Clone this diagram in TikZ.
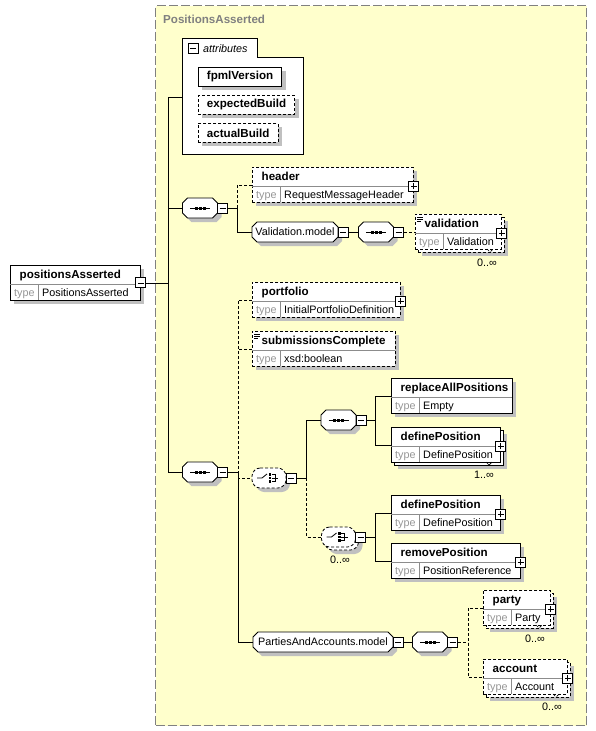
\documentclass[tikz,border=0pt]{standalone}
\usepackage{fontspec}
\setmainfont{Liberation Sans}
\usepackage{tikz}
\usetikzlibrary{shadows}

\definecolor{ctyellow}{RGB}{255,255,204}
\definecolor{ctborder}{RGB}{128,128,128}
\definecolor{shadowgray}{RGB}{192,192,192}
\definecolor{typegray}{RGB}{150,150,150}
\definecolor{divgray}{RGB}{140,140,140}

\newcommand{\namefont}{\fontsize{11.6}{13}\selectfont\bfseries}
\newcommand{\typefont}{\fontsize{10.8}{12}\selectfont}

\tikzstyle{conn} = [line width=0.8pt]
\tikzstyle{optline} = [dash pattern=on 3pt off 2pt]
\tikzstyle{optconn} = [conn, optline]
\tikzstyle{shadowfill} = [fill=shadowgray, draw=none]
\tikzstyle{boxshadow} = [general shadow={fill=shadowgray, shadow xshift=4pt, shadow yshift=-4pt}]
\tikzstyle{ctbox} = [rectangle, anchor=north west, fill=ctyellow, draw=ctborder, line width=1pt, dash pattern=on 9pt off 3pt, inner sep=0pt]
\tikzstyle{elembox} = [rectangle, draw=black, line width=0.8pt, fill=white, inner sep=0pt, minimum height=35pt, anchor=north west]
\tikzstyle{attrbox} = [rectangle, draw=black, line width=0.8pt, fill=white, boxshadow, anchor=north west, inner xsep=8.5pt, inner ysep=0pt, minimum height=19pt, font=\namefont]
\tikzstyle{divline} = [draw=divgray, line width=0.6pt]
\tikzstyle{nametext} = [anchor=base west, inner sep=0pt, font=\namefont]
\tikzstyle{typelabel} = [anchor=base west, inner sep=0pt, font=\typefont, text=typegray]
\tikzstyle{typevalue} = [anchor=base west, inner sep=0pt, font=\typefont]
\tikzstyle{multtext} = [anchor=east, inner sep=0pt, font=\typefont]
\tikzstyle{btn} = [rectangle, solid, draw=black, fill=white, line width=0.9pt, minimum size=10pt, inner sep=0pt]
\tikzstyle{minusbtn} = [btn, path picture={\draw[line width=0.8pt] ([xshift=2pt]path picture bounding box.west) -- ([xshift=-2pt]path picture bounding box.east);}]
\tikzstyle{plusbtn} = [btn, path picture={\draw[line width=0.8pt] ([xshift=2pt]path picture bounding box.west) -- ([xshift=-2pt]path picture bounding box.east) ([yshift=2pt]path picture bounding box.south) -- ([yshift=-2pt]path picture bounding box.north);}]
\tikzstyle{octline} = [draw=black, fill=white, line width=0.8pt]
\tikzstyle{compnode} = [rectangle, inner sep=0pt, minimum height=20pt]

% element box: style, name, x, y, width, label, type
\newcommand{\elembody}[7]{%
  \node[elembox, #1, minimum width=#5pt] (#2) at (#3,#4) {};
  \draw[divline] (#3,#4+19.5) -- ++(#5,0);
  \draw[divline] (#3+28,#4+19.5) -- ++(0,15.5);
  \node[nametext] (#2-name) at (#3+9.5,#4+13.5) {#6};
  \node[typelabel] (#2-tl) at (#3+4,#4+31) {type};
  \node[typevalue] (#2-type) at (#3+32,#4+31) {#7};
}
\newcommand{\elem}[7][solid]{\elembody{boxshadow,#1}{#2}{#3}{#4}{#5}{#6}{#7}}
\newcommand{\elemmulti}[7][solid]{%
  \node[elembox, boxshadow, #1, minimum width=#5pt] (#2-back) at (#3+3,#4+3) {};
  \elembody{#1}{#2}{#3}{#4}{#5}{#6}{#7}
  \draw[#1, line width=0.7pt] (#3+#5-14,#4+35) -- ++(3,3) -- ++(3,-3);
}
\newcommand{\docmark}[2]{\draw[line width=0.6pt] (#1+2,#2+3) -- ++(6,0) (#1+2,#2+5) -- ++(6,0) (#1+2,#2+7) -- ++(4,0);}

% octagon: style, cx, cy, width, height
\newcommand{\octshape}[5]{\draw[#1] (#2-#4/2+5,#3-#5/2) -- (#2+#4/2-5,#3-#5/2) -- (#2+#4/2,#3-#5/2+5) -- (#2+#4/2,#3+#5/2-5) -- (#2+#4/2-5,#3+#5/2) -- (#2-#4/2+5,#3+#5/2) -- (#2-#4/2,#3+#5/2-5) -- (#2-#4/2,#3-#5/2+5) -- cycle;}
% sequence: name, cx, cy
\newcommand{\seqnode}[3]{%
  \octshape{shadowfill}{#2+4}{#3+4}{35}{20}
  \octshape{octline}{#2}{#3}{35}{20}
  \node[compnode, minimum width=35pt] (#1) at (#2,#3) {};
  \draw[conn] ([xshift=-10pt]#1.center) -- ([xshift=10pt]#1.center);
  \foreach \dx in {-4,0,4} \fill ([xshift=\dx pt]#1.center) +(-1.5pt,-1.5pt) rectangle +(1.5pt,1.5pt);
}
% model group: name, cx, cy, width, text
\newcommand{\modelnode}[5]{%
  \octshape{shadowfill}{#2+4}{#3+4}{#4}{20}
  \octshape{octline}{#2}{#3}{#4}{20}
  \node[compnode, minimum width=#4pt, font=\typefont] (#1) at (#2,#3) {#5};
}
% choice: name, cx, cy
\newcommand{\choicebody}[3]{%
  \octshape{octline, optline, rounded corners=3pt}{#2}{#3}{34}{20}
  \node[compnode, minimum width=34pt] (#1) at (#2,#3) {};
  \draw[conn] ([xshift=-12pt]#1.center) -- ([xshift=-7pt]#1.center) -- ([shift={(-2pt,4pt)}]#1.center);
  \foreach \dy in {-3.5,0,3.5} \fill ([shift={(1pt,\dy pt)}]#1.center) +(-1.3pt,-1.3pt) rectangle +(1.3pt,1.3pt);
  \draw[line width=0.7pt] ([shift={(2.5pt,3.5pt)}]#1.center) -- ([shift={(6pt,3.5pt)}]#1.center) -- ([shift={(6pt,-3.5pt)}]#1.center) -- ([shift={(2.5pt,-3.5pt)}]#1.center) ([shift={(2.5pt,0pt)}]#1.center) -- ([shift={(9pt,0pt)}]#1.center);
}
\newcommand{\choicenode}[3]{%
  \octshape{shadowfill, rounded corners=3pt}{#2+4}{#3+4}{34}{20}
  \choicebody{#1}{#2}{#3}
}
\newcommand{\choicemulti}[3]{%
  \octshape{shadowfill, rounded corners=3pt}{#2+7}{#3+7}{34}{20}
  \octshape{octline, optline, rounded corners=3pt}{#2+3}{#3+3}{34}{20}
  \choicebody{#1}{#2}{#3}
}

\begin{document}
\begin{tikzpicture}[x=1pt, y=-1pt]
\useasboundingbox (0,0) rectangle (596,731);

% complex type area
\node[ctbox, minimum width=431pt, minimum height=720pt] (ctype) at (155,5) {};
\node[anchor=base west, inner sep=0pt, font=\namefont, text=ctborder] (ctTitle) at (163,23) {PositionsAsserted};

% root element
\elem{pa}{10}{265}{130}{positionsAsserted}{PositionsAsserted}
\node[minusbtn] (paMinus) at (pa.east) {};

% attributes
\node[anchor=north west, inner sep=0pt, minimum width=121pt, minimum height=97pt] (attrs) at (182,57) {};
\draw[line width=0.8pt, fill=white] (attrs.south west) -- (182,38) -- (257,38) -- (257,57) -- (attrs.north east) -- (attrs.south east) -- cycle;
\node[minusbtn] (attrMinus) at (193,48.5) {};
\node[anchor=base west, inner sep=0pt, font=\typefont\itshape] (attrLabel) at (203,52) {attributes};
\node[attrbox] (fpml) at (198,67) {fpmlVersion};
\node[attrbox, optline] (expected) at (198,95) {expectedBuild};
\node[attrbox, optline] (actual) at (198,123) {actualBuild};

% first sequence
\seqnode{seqTop}{200}{208}
\node[minusbtn] (seqTopMinus) at ([xshift=5pt]seqTop.east) {};
\elem[optline]{header}{252}{167}{161}{header}{RequestMessageHeader}
\node[plusbtn] (headerPlus) at ([yshift=-1.5pt]header.east) {};
\modelnode{valModel}{295}{232}{86}{Validation.model}
\node[minusbtn] (valModelMinus) at ([xshift=5pt]valModel.east) {};
\seqnode{seqVal}{376}{232}
\node[minusbtn] (seqValMinus) at ([xshift=5pt]seqVal.east) {};
\elemmulti[optline]{validation}{415}{214}{86}{validation}{Validation}
\docmark{415}{214}
\node[plusbtn] (validationPlus) at ([yshift=-1.5pt]validation.east) {};
\node[multtext] (validationMult) at (497,263) {0..∞};

% second sequence
\seqnode{seqMain}{200}{472}
\node[minusbtn] (seqMainMinus) at ([xshift=5pt]seqMain.east) {};
\elem[optline]{portfolio}{252}{282}{148}{portfolio}{InitialPortfolioDefinition}
\node[plusbtn] (portfolioPlus) at ([yshift=-1.5pt]portfolio.east) {};
\elem[optline]{submissions}{252}{331}{143}{submissionsComplete}{xsd:boolean}
\docmark{252}{331}
\choicenode{choiceA}{269}{478}
\node[minusbtn] (choiceAMinus) at ([xshift=5pt]choiceA.east) {};
\seqnode{seqRep}{338.5}{420}
\node[minusbtn] (seqRepMinus) at ([xshift=5pt]seqRep.east) {};
\elem{replaceAll}{391}{378}{121}{replaceAllPositions}{Empty}
\elemmulti{defPosA}{391}{427}{109}{definePosition}{DefinePosition}
\node[plusbtn] (defPosAPlus) at ([yshift=-1.5pt]defPosA.east) {};
\node[multtext] (defPosAMult) at (494,475) {1..∞};
\choicemulti{choiceB}{338.5}{537}
\node[minusbtn] (choiceBMinus) at ([xshift=5pt]choiceB.east) {};
\node[multtext, anchor=center] (choiceBMult) at (340,560) {0..∞};
\elem{defPosB}{391}{495}{109}{definePosition}{DefinePosition}
\node[plusbtn] (defPosBPlus) at ([yshift=-1.5pt]defPosB.east) {};
\elem{removePos}{391}{543}{129}{removePosition}{PositionReference}
\node[plusbtn] (removePosPlus) at ([yshift=-1.5pt]removePos.east) {};
\modelnode{partyModel}{323}{642}{140}{PartiesAndAccounts.model}
\node[minusbtn] (partyModelMinus) at ([xshift=5pt]partyModel.east) {};
\seqnode{seqParty}{430}{642}
\node[minusbtn] (seqPartyMinus) at ([xshift=5pt]seqParty.east) {};
\elemmulti[optline]{party}{483}{590}{67}{party}{Party}
\node[plusbtn] (partyPlus) at ([yshift=-1.5pt]party.east) {};
\node[multtext] (partyMult) at (545,639) {0..∞};
\elemmulti[optline]{account}{483}{659}{84}{account}{Account}
\node[plusbtn] (accountPlus) at ([yshift=-1.5pt]account.east) {};
\node[multtext] (accountMult) at (562,707) {0..∞};

% connectors
\draw[conn] (paMinus.east) -- ++(23,0);
\draw[conn] ([yshift=8.5pt]attrs.west) -- ++(-14,0) |- (seqTop.west);
\draw[conn] (seqTop.west) -- ++(-14,0) |- (seqMain.west);
\draw[conn] (seqTopMinus.east) -- ++(9,0) coordinate (busA);
\draw[optconn] (header.west) -| (busA);
\draw[conn] (busA) |- (valModel.west);
\draw[conn] (valModelMinus.east) -- (seqVal.west);
\draw[optconn] (seqValMinus.east) -- (seqValMinus.east -| validation.west);
\draw[conn] (seqMainMinus.east) -- ++(10,0) coordinate (busB);
\draw[optconn] (portfolio.west) -| (busB);
\draw[optconn] (submissions.west) -- (submissions.west -| busB);
\draw[optconn] (busB) |- (choiceA.west);
\draw[conn] (busB) |- (partyModel.west);
\draw[conn] (choiceAMinus.east) -- ++(10,0) coordinate (busC);
\draw[conn] (busC) |- (seqRep.west);
\draw[optconn] (busC) |- (choiceB.west);
\draw[conn] (seqRepMinus.east) -- ++(9,0) coordinate (busD);
\draw[conn] (replaceAll.west) -| (busD) |- (defPosA.west);
\draw[conn] (choiceBMinus.east) -- ++(9,0) coordinate (busE);
\draw[conn] (defPosB.west) -| (busE) |- (removePos.west);
\draw[conn] (partyModelMinus.east) -- (seqParty.west);
\draw[optconn] (seqPartyMinus.east) -- ++(10,0) coordinate (busF);
\draw[optconn] (party.west) -| (busF) |- (account.west);
\end{tikzpicture}
\end{document}
